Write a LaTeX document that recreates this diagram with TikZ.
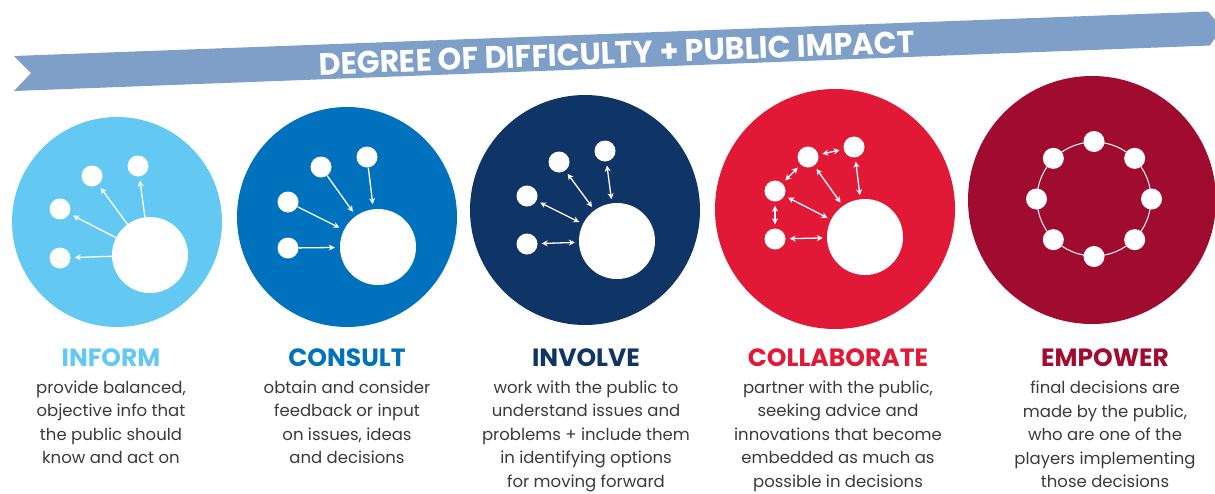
\documentclass[tikz,border=0pt]{standalone}
\usepackage{fontspec}
\setmainfont{Poppins}
\usetikzlibrary{positioning,arrows.meta}

\definecolor{ribbon}{HTML}{7D9FC8}
\definecolor{inform}{HTML}{63C8F2}
\definecolor{consult}{HTML}{0071BC}
\definecolor{involve}{HTML}{0F3466}
\definecolor{collab}{HTML}{E11937}
\definecolor{empower}{HTML}{A00B30}
\definecolor{bodytext}{HTML}{3A3A3A}

\tikzset{
  disc/.style={circle, inner sep=0pt, minimum size=#1},
  hub/.style={circle, fill=white, inner sep=0pt, minimum size=76pt},
  dot/.style={circle, fill=white, inner sep=0pt, minimum size=21pt},
  wire/.style={white, line width=1.3pt, >={Stealth[length=6pt,width=6pt]}},
  heading/.style={inner sep=0pt, font=\bfseries\fontsize{25}{25}\selectfont},
  blurb/.style={inner sep=0pt, align=center, text=bodytext, font=\fontsize{16.5}{23.5}\selectfont},
}

\begin{document}
\begin{tikzpicture}[x=1pt, y=-1pt]
    \useasboundingbox (0,0) rectangle (1215,493);

    \fill [ribbon] (14,56) -- (1208,11.5) -- (1222,28) -- (1210,45.5) -- (14,91) -- (31,73) -- cycle;
    \node [rotate=2.15, text=white, font=\bfseries\fontsize{31}{31}\selectfont] (banner) at (617,53) {\scalebox{0.97}[1]{DEGREE OF DIFFICULTY + PUBLIC IMPACT}};

    % inform
    \node [disc=210pt, fill=inform] (inf) at (117,222) {};
    \node [hub] (inf-hub) at (150,255) {};
    \node [dot] (inf-1) at (60,258) {};
    \node [dot] (inf-2) at (60,209) {};
    \node [dot] (inf-3) at (92,176) {};
    \node [dot] (inf-4) at (138,166) {};
    \foreach \i in {1,...,4}
        \draw [wire, ->, shorten >=4pt] (inf-hub) -- (inf-\i);

    % consult
    \node [disc=220pt, fill=consult] (con) at (347,217) {};
    \node [hub] (con-hub) at (378,247) {};
    \node [dot] (con-1) at (288,248) {};
    \node [dot] (con-2) at (288,202) {};
    \node [dot] (con-3) at (321,167) {};
    \node [dot] (con-4) at (367,157) {};
    \foreach \i in {1,...,4}
        \draw [wire, ->, shorten >=5pt] (con-\i) -- (con-hub);

    % involve
    \node [disc=230pt, fill=involve] (inv) at (585,210) {};
    \node [hub] (inv-hub) at (617,241) {};
    \node [dot] (inv-1) at (527,244) {};
    \node [dot] (inv-2) at (527,196) {};
    \node [dot] (inv-3) at (559,162) {};
    \node [dot] (inv-4) at (605,151) {};
    \foreach \i in {1,...,4}
        \draw [wire, <->, shorten >=4pt, shorten <=4pt] (inv-\i) -- (inv-hub);

    % collaborate
    \node [disc=240pt, fill=collab] (col) at (835,209) {};
    \node [hub] (col-hub) at (865,237) {};
    \node [dot] (col-1) at (775,239) {};
    \node [dot] (col-2) at (775,191) {};
    \node [dot] (col-3) at (808,157) {};
    \node [dot] (col-4) at (854,147) {};
    \foreach \i in {1,...,4}
        \draw [wire, <->, shorten >=4pt, shorten <=4pt] (col-\i) -- (col-hub);
    \draw [wire, <->, shorten >=4pt, shorten <=4pt] (col-1) -- (col-2);
    \draw [wire, <->, shorten >=4pt, shorten <=4pt] (col-2) -- (col-3);
    \draw [wire, <->, shorten >=4pt, shorten <=4pt] (col-3) -- (col-4);

    % empower
    \node [disc=248pt, fill=empower] (emp) at (1092,200) {};
    \node [circle, draw=white, line width=1pt, inner sep=0pt, minimum size=114pt] (emp-ring) at (1094,199) {};
    \foreach \a in {0,45,...,315}
        \node [dot] (emp-\a) at (emp-ring.\a) {};

    % labels
    \node [heading, text=inform] (inf-t) at (111,357.5) {INFORM};
    \node [blurb, below=14pt of inf-t] (inf-b) {provide balanced,\\objective info that\\the public should\\know and act on};
    \node [heading, text=consult] (con-t) at (347,357.5) {CONSULT};
    \node [blurb, below=14pt of con-t] (con-b) {obtain and consider\\feedback or input\\on issues, ideas\\and decisions};
    \node [heading, text=involve] (inv-t) at (586,357.5) {INVOLVE};
    \node [blurb, below=14pt of inv-t] (inv-b) {work with the public to\\understand issues and\\problems + include them\\in identifying options\\for moving forward};
    \node [heading, text=collab] (col-t) at (838,357.5) {COLLABORATE};
    \node [blurb, below=14pt of col-t] (col-b) {partner with the public,\\seeking advice and\\innovations that become\\embedded as much as\\possible in decisions};
    \node [heading, text=empower] (emp-t) at (1105,357.5) {EMPOWER};
    \node [blurb, below=14pt of emp-t] (emp-b) {final decisions are\\made by the public,\\who are one of the\\players implementing\\those decisions};
\end{tikzpicture}
\end{document}
